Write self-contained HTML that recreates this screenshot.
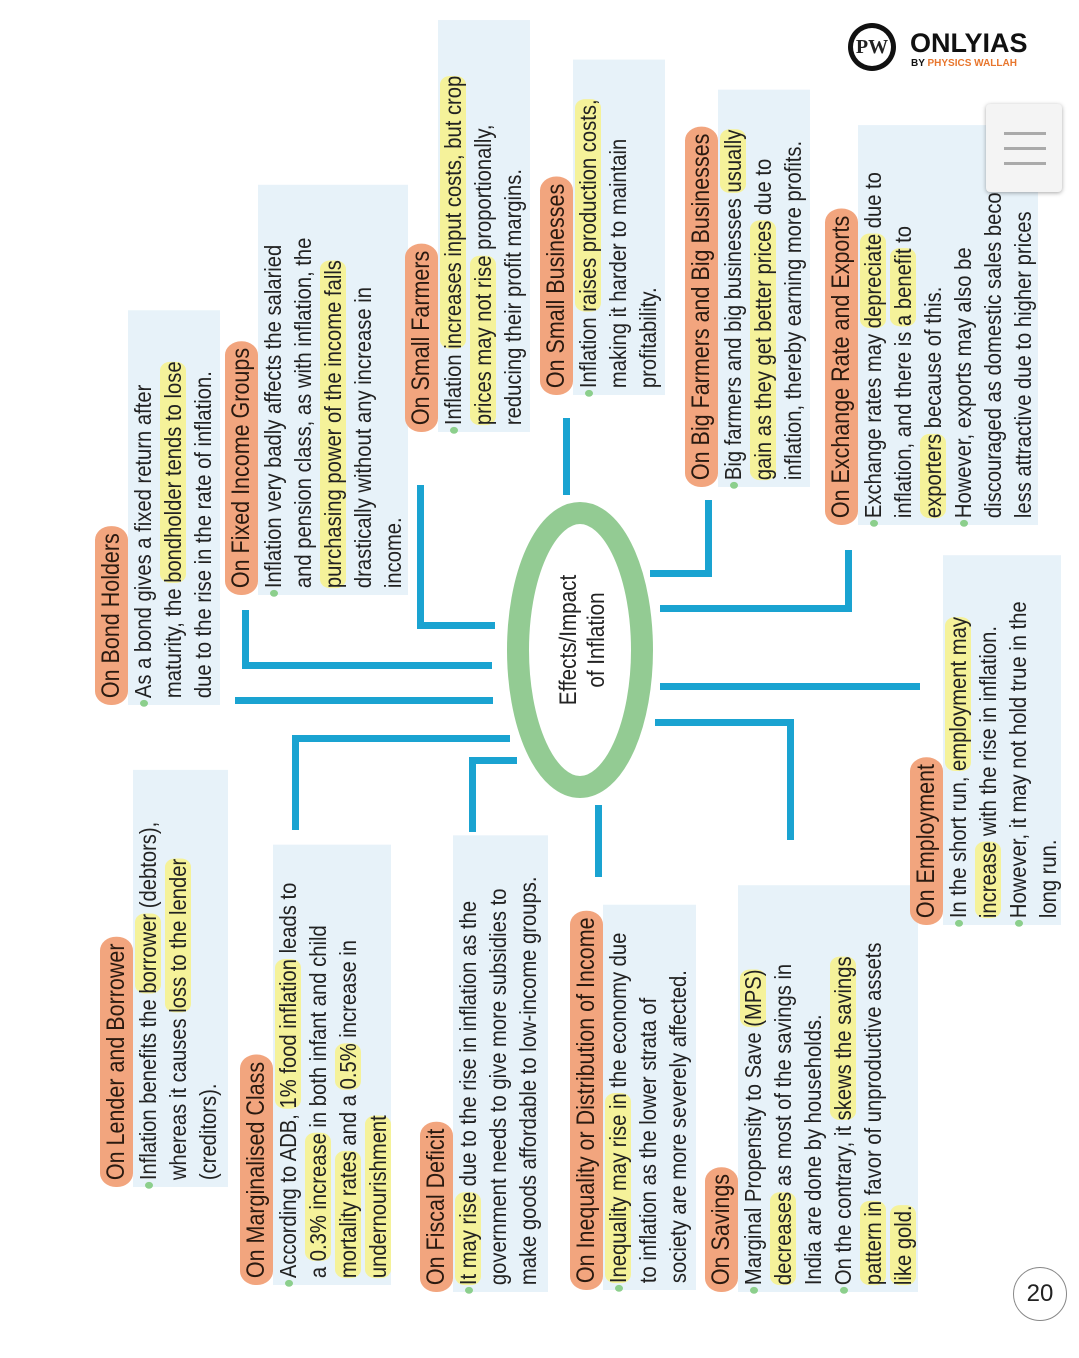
<!DOCTYPE html>
<html><head><meta charset="utf-8">
<style>
html,body{margin:0;padding:0;background:#fff;}
body{width:1079px;height:1358px;position:relative;overflow:hidden;font-family:"Liberation Sans",sans-serif;color:#222;}
.blk{position:absolute;transform-origin:0 0;transform:rotate(-90deg) scale(0.86,1);}
.t{display:inline-block;background:#f2a57e;border-radius:16px;padding:0 8px;font-size:25px;line-height:33px;height:33px;color:#2a1a10;white-space:nowrap;}
.b{background:#e7f2f9;font-size:23.5px;line-height:30px;padding:0 0 0 8px;white-space:nowrap;position:relative;}
.b div{position:relative}
.dot{position:absolute;left:-10px;top:12px;width:8px;height:8px;border-radius:50%;background:#8ccf8c;}
.h{background:#f5f29a;border-radius:10px;}
.c{position:absolute;background:#1aa3d1;}
</style></head><body>

<svg style="position:absolute;left:0;top:0" width="1079" height="1358">
<ellipse cx="580" cy="650" rx="62" ry="137" fill="none" stroke="#93cb93" stroke-width="22"/>
</svg>
<div class="blk" style="left:555px;top:720px;width:186px;height:60px;font-size:24px;line-height:28px;text-align:center;">Effects/Impact<br>of Inflation</div>

<div class="c" style="left:235px;top:697px;width:258px;height:7px"></div>
<div class="c" style="left:242px;top:610px;width:7px;height:58px"></div>
<div class="c" style="left:242px;top:662px;width:250px;height:7px"></div>
<div class="c" style="left:417px;top:485px;width:7px;height:143px"></div>
<div class="c" style="left:417px;top:622px;width:78px;height:7px"></div>
<div class="c" style="left:563px;top:418px;width:7px;height:77px"></div>
<div class="c" style="left:705px;top:500px;width:7px;height:76px"></div>
<div class="c" style="left:650px;top:570px;width:62px;height:7px"></div>
<div class="c" style="left:845px;top:550px;width:7px;height:62px"></div>
<div class="c" style="left:660px;top:605px;width:192px;height:7px"></div>
<div class="c" style="left:660px;top:683px;width:260px;height:7px"></div>
<div class="c" style="left:655px;top:719px;width:138px;height:7px"></div>
<div class="c" style="left:787px;top:719px;width:7px;height:121px"></div>
<div class="c" style="left:595px;top:805px;width:7px;height:72px"></div>
<div class="c" style="left:469px;top:757px;width:48px;height:7px"></div>
<div class="c" style="left:469px;top:757px;width:7px;height:75px"></div>
<div class="c" style="left:292px;top:735px;width:218px;height:7px"></div>
<div class="c" style="left:292px;top:735px;width:7px;height:95px"></div>

<div class="blk" style="left:95px;top:705px;width:459px;">
<div class="t">On Bond Holders</div>
<div class="b" style="height:92px"><div><span class="dot"></span>As a bond gives a fixed return after</div><div>maturity, the <span class="h">bondholder tends to lose</span></div><div>due to the rise in the rate of inflation.</div></div>
</div>

<div class="blk" style="left:225px;top:595px;width:477px;">
<div class="t">On Fixed Income Groups</div>
<div class="b" style="height:150px"><div><span class="dot"></span>Inflation very badly affects the salaried</div><div>and pension class, as with inflation, the</div><div><span class="h">purchasing power of the income falls</span></div><div>drastically without any increase in</div><div>income.</div></div>
</div>

<div class="blk" style="left:405px;top:432px;width:479px;">
<div class="t">On Small Farmers</div>
<div class="b" style="height:92px"><div><span class="dot"></span>Inflation <span class="h">increases input costs, but crop</span></div><div><span class="h">prices may not rise</span> proportionally,</div><div>reducing their profit margins.</div></div>
</div>

<div class="blk" style="left:540px;top:395px;width:390px;">
<div class="t">On Small Businesses</div>
<div class="b" style="height:92px"><div><span class="dot"></span>Inflation <span class="h">raises production costs,</span></div><div>making it harder to maintain</div><div>profitability.</div></div>
</div>

<div class="blk" style="left:685px;top:487px;width:462px;">
<div class="t">On Big Farmers and Big Businesses</div>
<div class="b" style="height:92px"><div><span class="dot"></span>Big farmers and big businesses <span class="h">usually</span></div><div><span class="h">gain as they get better prices</span> due to</div><div>inflation, thereby earning more profits.</div></div>
</div>

<div class="blk" style="left:825px;top:525px;width:465px;">
<div class="t">On Exchange Rate and Exports</div>
<div class="b" style="height:180px"><div><span class="dot"></span>Exchange rates may <span class="h">depreciate</span> due to</div><div>inflation, and there is <span class="h">a benefit</span> to</div><div><span class="h">exporters</span> because of this.</div><div><span class="dot"></span>However, exports may also be</div><div>discouraged as domestic sales become</div><div>less attractive due to higher prices</div></div>
</div>

<div class="blk" style="left:100px;top:1187px;width:485px;">
<div class="t">On Lender and Borrower</div>
<div class="b" style="height:95px"><div><span class="dot"></span>Inflation benefits the <span class="h">borrower</span> (debtors),</div><div>whereas it causes <span class="h">loss to the lender</span></div><div>(creditors).</div></div>
</div>

<div class="blk" style="left:240px;top:1285px;width:512px;">
<div class="t">On Marginalised Class</div>
<div class="b" style="height:118px"><div><span class="dot"></span>According to ADB, <span class="h">1% food inflation</span> leads to</div><div>a <span class="h">0.3% increase</span> in both infant and child</div><div><span class="h">mortality rates</span> and a <span class="h">0.5%</span> increase in</div><div><span class="h">undernourishment</span></div></div>
</div>

<div class="blk" style="left:420px;top:1292px;width:531px;">
<div class="t">On Fiscal Deficit</div>
<div class="b" style="height:95px"><div><span class="dot"></span><span class="h">It may rise</span> due to the rise in inflation as the</div><div>government needs to give more subsidies to</div><div>make goods affordable to low-income groups.</div></div>
</div>

<div class="blk" style="left:570px;top:1290px;width:448px;">
<div class="t">On Inequality or Distribution of Income</div>
<div class="b" style="height:93px"><div><span class="dot"></span><span class="h">Inequality may rise in</span> the economy due</div><div>to inflation as the lower strata of</div><div>society are more severely affected.</div></div>
</div>

<div class="blk" style="left:705px;top:1292px;width:473px;">
<div class="t">On Savings</div>
<div class="b" style="height:180px"><div><span class="dot"></span>Marginal Propensity to Save <span class="h">(MPS)</span></div><div><span class="h">decreases</span> as most of the savings in</div><div>India are done by households.</div><div><span class="dot"></span>On the contrary, it <span class="h">skews the savings</span></div><div><span class="h">pattern in</span> favor of unproductive assets</div><div><span class="h">like gold.</span></div></div>
</div>

<div class="blk" style="left:910px;top:925px;width:430px;">
<div class="t">On Employment</div>
<div class="b" style="height:118px"><div><span class="dot"></span>In the short run, <span class="h">employment may</span></div><div><span class="h">increase</span> with the rise in inflation.</div><div><span class="dot"></span>However, it may not hold true in the</div><div>long run.</div></div>
</div>

<div style="position:absolute;left:848px;top:23px;width:48px;height:48px;border-radius:50%;background:#111;"></div>
<div style="position:absolute;left:853px;top:28px;width:38px;height:38px;border-radius:50%;background:#fff;font:bold 20px 'Liberation Serif',serif;text-align:center;line-height:38px;">PW</div>
<div style="position:absolute;left:910px;top:28px;font:bold 27px 'Liberation Sans',sans-serif;color:#111;">ONLYIAS</div>
<div style="position:absolute;left:911px;top:58px;font:bold 10px 'Liberation Sans',sans-serif;color:#111;">BY <span style="color:#e8762d">PHYSICS WALLAH</span></div>

<div style="position:absolute;left:986px;top:104px;width:76px;height:88px;background:#f4f4f4;border-radius:4px;box-shadow:0 1px 4px rgba(0,0,0,.35);">
<div style="position:absolute;left:18px;top:28px;width:42px;height:3px;background:#aaa"></div>
<div style="position:absolute;left:18px;top:43px;width:42px;height:3px;background:#aaa"></div>
<div style="position:absolute;left:18px;top:58px;width:42px;height:3px;background:#aaa"></div>
</div>

<div style="position:absolute;left:1013px;top:1267px;width:52px;height:52px;border-radius:50%;border:1px solid #888;background:#fff;font:24px 'Liberation Sans',sans-serif;text-align:center;line-height:52px;">20</div>
</body></html>
